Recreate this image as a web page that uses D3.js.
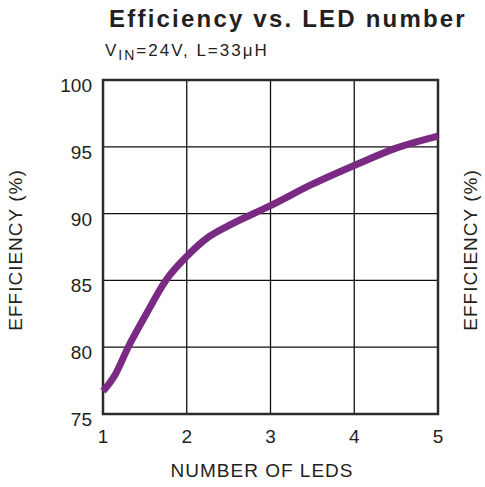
<!DOCTYPE html>
<html>
<head>
<meta charset="utf-8">
<script src="https://cdn.jsdelivr.net/npm/d3@7"></script>
<style>
  body { margin: 0; background: #fff; }
  text { font-family: "Liberation Sans", Arial, sans-serif; fill: #231f20; }
</style>
</head>
<body>
<div id="chart"></div>
<script>
// efficiency curve
const leds = [1, 1.15, 1.3, 1.5, 1.75, 2, 2.25, 2.5, 3, 3.5, 4, 4.5, 5];
const efficiency = [76.7, 78.0, 80.0, 82.3, 85.0, 86.8, 88.2, 89.1, 90.6, 92.2, 93.6, 94.9, 95.8];
const xTicks = [1, 2, 3, 4, 5];
const yTicks = [75, 80, 85, 90, 95, 100];

const width = 485, height = 487,
      margin = ({top: 80, right: 47, bottom: 73, left: 103});

const svg = d3.select("#chart")
    .append("svg")
    .attr("width", width)
    .attr("height", height);

const x = d3.scaleLinear()
    .domain([1, 5])
    .range([margin.left, width - margin.right]);

const y = d3.scaleLinear()
    .domain([75, 100])
    .range([height - margin.bottom, margin.top]);

// grid
svg.append("g")
    .selectAll("line")
    .data(xTicks)
    .join("line")
    .attr("x1", d => x(d)).attr("x2", d => x(d))
    .attr("y1", y(75)).attr("y2", y(100))
    .attr("stroke", "#111").attr("stroke-width", 1.3);

svg.append("g")
    .selectAll("line")
    .data(yTicks)
    .join("line")
    .attr("x1", x(1)).attr("x2", x(5))
    .attr("y1", d => y(d)).attr("y2", d => y(d))
    .attr("stroke", "#111").attr("stroke-width", 1.3);

// frame
svg.append("rect")
    .attr("x", x(1)).attr("y", y(100))
    .attr("width", x(5) - x(1)).attr("height", y(75) - y(100))
    .attr("fill", "none").attr("stroke", "#2b2b2b").attr("stroke-width", 2.5);

// curve
const line = d3.line()
    .x((d, i) => x(d))
    .y((d, i) => y(efficiency[i]))
    .curve(d3.curveMonotoneX);

svg.append("path")
    .datum(leds)
    .attr("d", line)
    .attr("fill", "none")
    .attr("stroke", "#7a2a82")
    .attr("stroke-width", 7);

// tick labels
svg.append("g")
    .selectAll("text")
    .data(yTicks)
    .join("text")
    .attr("x", x(1) - 11)
    .attr("y", d => y(d) + 12)
    .attr("text-anchor", "end")
    .style("font-size", "19px")
    .text(d => d);

svg.append("g")
    .selectAll("text")
    .data(xTicks)
    .join("text")
    .attr("x", d => x(d))
    .attr("y", y(75) + 29)
    .attr("text-anchor", "middle")
    .style("font-size", "19px")
    .text(d => d);

// titles
svg.append("text")
    .attr("x", 288).attr("y", 27)
    .attr("text-anchor", "middle")
    .style("font-size", "24px").style("font-weight", "bold")
    .style("letter-spacing", "2.2px")
    .text("Efficiency vs. LED number");

const sub = svg.append("text")
    .attr("x", 105).attr("y", 56)
    .style("font-size", "17px")
    .style("letter-spacing", "2px");
sub.append("tspan").text("V");
sub.append("tspan").attr("dy", 4).style("font-size", "14px").text("IN");
sub.append("tspan").attr("dy", -4).text("=24V, L=33μH");

svg.append("text")
    .attr("x", 262).attr("y", 477)
    .attr("text-anchor", "middle")
    .style("font-size", "19px")
    .style("letter-spacing", "1px")
    .text("NUMBER OF LEDS");

svg.append("text")
    .attr("transform", `translate(22, 250) rotate(-90)`)
    .attr("text-anchor", "middle")
    .style("font-size", "19px")
    .style("letter-spacing", "1px")
    .text("EFFICIENCY (%)");

svg.append("text")
    .attr("transform", `translate(477, 250) rotate(-90)`)
    .attr("text-anchor", "middle")
    .style("font-size", "19px")
    .style("letter-spacing", "1px")
    .text("EFFICIENCY (%)");
</script>
</body>
</html>
